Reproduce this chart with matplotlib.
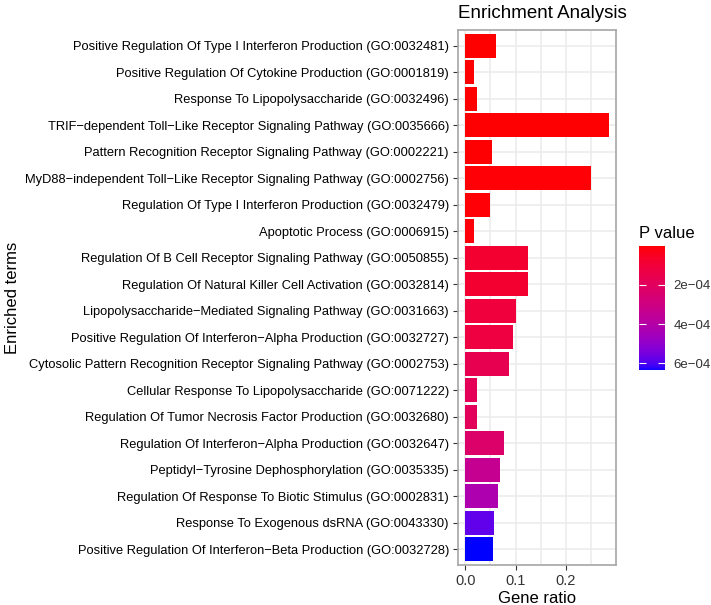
import matplotlib
matplotlib.use("Agg")
import matplotlib.pyplot as plt
import numpy as np
from matplotlib.colors import ListedColormap, Normalize
from matplotlib.cm import ScalarMappable

plt.rcParams['font.family'] = ['Liberation Sans', 'DejaVu Sans']

terms = [
    "Positive Regulation Of Type I Interferon Production (GO:0032481)",
    "Positive Regulation Of Cytokine Production (GO:0001819)",
    "Response To Lipopolysaccharide (GO:0032496)",
    "TRIF\u2212dependent Toll\u2212Like Receptor Signaling Pathway (GO:0035666)",
    "Pattern Recognition Receptor Signaling Pathway (GO:0002221)",
    "MyD88\u2212independent Toll\u2212Like Receptor Signaling Pathway (GO:0002756)",
    "Regulation Of Type I Interferon Production (GO:0032479)",
    "Apoptotic Process (GO:0006915)",
    "Regulation Of B Cell Receptor Signaling Pathway (GO:0050855)",
    "Regulation Of Natural Killer Cell Activation (GO:0032814)",
    "Lipopolysaccharide\u2212Mediated Signaling Pathway (GO:0031663)",
    "Positive Regulation Of Interferon\u2212Alpha Production (GO:0032727)",
    "Cytosolic Pattern Recognition Receptor Signaling Pathway (GO:0002753)",
    "Cellular Response To Lipopolysaccharide (GO:0071222)",
    "Regulation Of Tumor Necrosis Factor Production (GO:0032680)",
    "Regulation Of Interferon\u2212Alpha Production (GO:0032647)",
    "Peptidyl\u2212Tyrosine Dephosphorylation (GO:0035335)",
    "Regulation Of Response To Biotic Stimulus (GO:0002831)",
    "Response To Exogenous dsRNA (GO:0043330)",
    "Positive Regulation Of Interferon\u2212Beta Production (GO:0032728)",
]

gene_ratio = [0.061, 0.018, 0.024, 0.285, 0.053, 0.249, 0.050, 0.017,
              0.125, 0.125, 0.100, 0.094, 0.086, 0.024, 0.023, 0.077,
              0.069, 0.065, 0.057, 0.055]

p_value = [1e-6, 2e-6, 3e-6, 4e-6, 5e-6, 6e-6, 8e-6, 1.2e-5,
           8e-5, 8e-5, 1.1e-4, 1.2e-4, 1.6e-4, 1.8e-4, 1.9e-4, 2.3e-4,
           3.4e-4, 4.2e-4, 5.8e-4, 6.35e-4]


# ggplot-like red -> blue gradient, interpolated in Lab space
def srgb_to_lab(rgb):
    c = np.asarray(rgb, float)
    c = np.where(c <= 0.04045, c / 12.92, ((c + 0.055) / 1.055) ** 2.4)
    m = np.array([[0.4124, 0.3576, 0.1805],
                  [0.2126, 0.7152, 0.0722],
                  [0.0193, 0.1192, 0.9505]])
    xyz = m @ c / np.array([0.95047, 1.0, 1.08883])
    f = np.where(xyz > 0.008856, np.cbrt(xyz), 7.787 * xyz + 16 / 116)
    return np.array([116 * f[1] - 16, 500 * (f[0] - f[1]), 200 * (f[1] - f[2])])


def lab_to_srgb(lab):
    L, a, b = lab
    fy = (L + 16) / 116
    f = np.array([fy + a / 500, fy, fy - b / 200])
    xyz = np.where(f ** 3 > 0.008856, f ** 3, (f - 16 / 116) / 7.787)
    xyz = xyz * np.array([0.95047, 1.0, 1.08883])
    m = np.array([[3.2406, -1.5372, -0.4986],
                  [-0.9689, 1.8758, 0.0415],
                  [0.0557, -0.2040, 1.0570]])
    c = m @ xyz
    c = np.clip(c, 0, 1)
    c = np.where(c <= 0.0031308, 12.92 * c, 1.055 * c ** (1 / 2.4) - 0.055)
    return np.clip(c, 0, 1)


lab_lo = srgb_to_lab([1, 0, 0])
lab_hi = srgb_to_lab([0, 0, 1])
cols = [lab_to_srgb(lab_lo + t * (lab_hi - lab_lo)) for t in np.linspace(0, 1, 256)]
cmap = ListedColormap(cols)
norm = Normalize(vmin=min(p_value), vmax=max(p_value))

fig = plt.figure(figsize=(7.11, 6.05), dpi=100)
W, H = 711, 605
ax = fig.add_axes([458 / W, 40 / H, 158 / W, 535 / H])

y = np.arange(len(terms))
ax.barh(y, gene_ratio, height=0.9, color=cmap(norm(p_value)), zorder=3)

ax.set_ylim(len(terms) - 0.4, -0.6)
xmax = max(gene_ratio)
ax.set_xlim(-0.05 * xmax, 1.05 * xmax)
ax.set_yticks(y)
ax.set_yticklabels(terms, fontsize=9.3, color='black')
ax.set_xticks([0.0, 0.1, 0.2])
ax.set_xticklabels(['0.0', '0.1', '0.2'], fontsize=10.5, color='#333333')
ax.set_xticks([0.05, 0.15, 0.25], minor=True)
ax.tick_params(axis='both', which='major', length=3.5, width=0.8,
               color='#333333', pad=3)
ax.tick_params(axis='x', which='minor', length=0)
ax.grid(True, which='both', color='#EBEBEB', linewidth=1.1, zorder=0)
for s in ax.spines.values():
    s.set_color('#A6A6A6')
    s.set_linewidth(1.2)

ax.set_xlabel('Gene ratio', fontsize=12, labelpad=2)
ax.set_ylabel('Enriched terms', fontsize=12)
ax.yaxis.set_label_coords(-438 / 158, 0.5)
fig.text(458 / W, 1 - 14 / H, 'Enrichment Analysis', fontsize=13.5,
         ha='left', va='center')

# colour legend, low p at top as in ggplot
cax = fig.add_axes([639 / W, 1 - 370 / H, 26 / W, 124 / H])
cb = fig.colorbar(ScalarMappable(norm=norm, cmap=cmap), cax=cax)
cb.outline.set_visible(False)
cax.invert_yaxis()
cb.set_ticks([2e-4, 4e-4, 6e-4])
cb.set_ticklabels(['2e\u221204', '4e\u221204', '6e\u221204'])
cax.tick_params(axis='y', which='both', direction='in', length=5, width=0.8,
                color='white', left=True, right=True, labelsize=9.5,
                labelcolor='#333333', pad=6)
cax.minorticks_off()
fig.text(639 / W, 1 - 233 / H, 'P value', fontsize=12, ha='left', va='center')

fig.savefig('out.png', dpi=100)
